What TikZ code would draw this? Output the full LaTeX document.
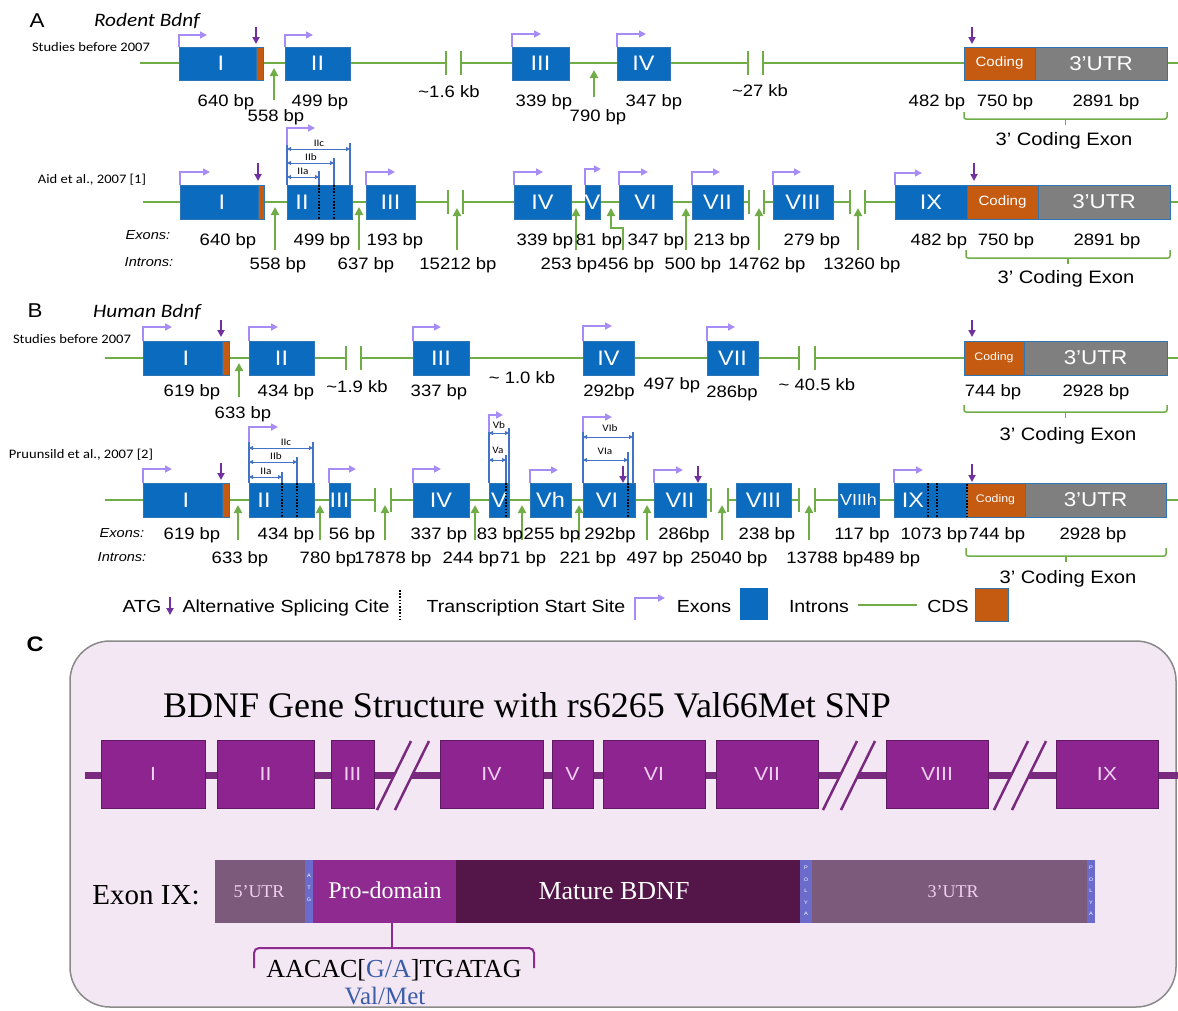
\documentclass[tikz,border=0pt]{standalone}
\usepackage{fontspec}
\setmainfont{Liberation Sans}[FakeStretch=1.12]
\newfontfamily\calfont{Carlito}[FakeStretch=1.12]
\newfontfamily\serfont{Liberation Serif}
\usetikzlibrary{arrows.meta}
\definecolor{exblue}{HTML}{0A6BBF}
\definecolor{exedge}{HTML}{2E75B6}
\definecolor{grn}{HTML}{70AD47}
\definecolor{cds}{HTML}{C55A11}
\definecolor{utr}{HTML}{7F7F7F}
\definecolor{tss}{HTML}{A88CF5}
\definecolor{atg}{HTML}{7030A0}
\definecolor{dim}{HTML}{4472C4}
\definecolor{bgC}{HTML}{F4E7F4}
\definecolor{frameC}{HTML}{8A8A8A}
\definecolor{exC}{HTML}{8D2490}
\definecolor{exCedge}{HTML}{5F1A63}
\definecolor{lineC}{HTML}{7A2A7E}
\definecolor{utrC}{HTML}{7C5A7B}
\definecolor{atgC}{HTML}{6B6BCB}
\definecolor{proC}{HTML}{8F2B90}
\definecolor{matC}{HTML}{541649}
\definecolor{snpC}{HTML}{3B5DA8}
\definecolor{clblC}{HTML}{EFD0EF}
\tikzset{
  bptxt/.style={font=\fontsize{16.5}{18}\selectfont, anchor=base, inner sep=0},
  ittxt/.style={font=\itshape\fontsize{13}{15}\selectfont, anchor=base, inner sep=0},
  caltxt/.style={font=\calfont\fontsize{13}{15}\selectfont, anchor=base, inner sep=0},
  dimtxt/.style={font=\calfont\fontsize{10}{11}\selectfont, inner sep=0},
  paneltxt/.style={font=\fontsize{20}{22}\selectfont, anchor=base, inner sep=0},
  titletxt/.style={font=\calfont\itshape\fontsize{19}{21}\selectfont, anchor=base, inner sep=0},
  cetxt/.style={font=\fontsize{18}{20}\selectfont, anchor=base, inner sep=0},
  legtxt/.style={font=\fontsize{17.5}{19}\selectfont, anchor=base, inner sep=0},
  exbox/.style={fill=exblue, draw=exedge, line width=0.8},
  cdsbox/.style={fill=cds, draw=exedge, line width=0.8},
  utrbox/.style={fill=utr, draw=exedge, line width=0.8},
  exlbl/.style={text=white, font=\fontsize{21}{21}\selectfont, inner sep=0},
  gline/.style={draw=grn, line width=2},
  garrow/.style={draw=grn, line width=2, -{Triangle[length=8,width=8]}},
  tssline/.style={draw=tss, line width=1.6, -{Triangle[length=7,width=7]}},
  atgarrow/.style={draw=atg, line width=2, -{Triangle[length=7,width=7]}},
  dimar/.style={draw=dim, line width=1, {Triangle[length=4,width=4]}-{Triangle[length=4,width=4]}},
  dimline/.style={draw=dim, line width=1.2},
  dotln/.style={draw=black, line width=1.4, dash pattern=on 1.6pt off 1.6pt},
  gbrace/.style={draw=grn, line width=1.5},
  cbox/.style={fill=exC, draw=exCedge, line width=1},
  clbl/.style={text=clblC, font=\fontsize{19}{19}\selectfont, inner sep=0},
  slashst/.style={draw=lineC, line width=2.5},
  bracest/.style={draw=proC, line width=2},
  ctxt/.style={font=\serfont, inner sep=0}
}
\newcounter{lb}
\newcommand\lbl[4][bptxt]{\stepcounter{lb}\node[#1] (lb\thelb) at (#2,#3) {#4};}
\newcommand\exon[7][exbox]{\filldraw[#1] (#3,#5) rectangle (#4,#6);
  \node[exlbl] (#2) at ({(#3+#4)/2},{(#5+#6)/2}) {#7};}
\newcommand\tssar[4]{\draw[tssline] (#1,#2) |- (#4,#3);}
\newcommand\garr[3]{\draw[garrow] (#1,#2) -- (#1,#3);}
\newcommand\atgar[3]{\draw[atgarrow] (#1,#2) -- (#1,#3);}
\newcommand\brk[3]{\draw[gline] (#1,{#3-12}) -- (#1,{#3+12}) (#2,{#3-12}) -- (#2,{#3+12});}
\newcommand\gbr[5]{\draw[gbrace, rounded corners=2] (#1,#3) -- (#1,#4) -- (#2,#4) -- (#2,#3);
  \draw[gbrace] ({(#1+#2)/2},#4) -- ({(#1+#2)/2},#5);}
\newcommand\cexon[4]{\filldraw[cbox] (#2,740) rectangle (#3,808);
  \node[clbl] (#1) at ({(#2+#3)/2},774) {#4};}
\newcommand\cslash[1]{\fill[bgC] (#1,810) -- ({#1+18},810) -- ({#1+52},741) -- ({#1+34},741) -- cycle;
  \draw[slashst] (#1,810) -- ({#1+34},741) ({#1+18},810) -- ({#1+52},741);}
\newcommand\codA{\fontsize{13.5}{14}\selectfont Coding}
\newcommand\utrA{\fontsize{20}{20}\selectfont 3’UTR}
\newcommand\codB{\fontsize{11}{12}\selectfont Coding}
\begin{document}
\begin{tikzpicture}[x=1pt,y=-1pt]
\useasboundingbox (0,0) rectangle (1178,1010);
\fill[white] (0,0) rectangle (1178,1010);

% ================= Panel A row 1 =================
\lbl[paneltxt]{37}{27}{A}
\lbl[titletxt]{147}{26}{Rodent Bdnf}
\lbl[caltxt]{91}{51}{Studies before 2007}
\draw[gline] (140,63) -- (446,63) (461,63) -- (748,63) (763,63) -- (1178,63);
\brk{446}{461}{63}
\brk{748}{763}{63}
\tssar{179}{47}{35}{207}
\tssar{285}{47}{35}{313}
\tssar{512}{47}{34}{541}
\tssar{617}{47}{34}{646}
\exon{aI}{179}{263}{47}{80}{I}
\filldraw[cdsbox] (256,47) rectangle (263,80);
\exon{aII}{285}{350}{47}{80}{II}
\exon{aIII}{512}{569}{47}{80}{III}
\exon{aIV}{617}{670}{47}{80}{IV}
\exon[cdsbox]{aCod}{964}{1035}{47}{80}{\codA}
\exon[utrbox]{aUTR}{1035}{1167}{47}{80}{\utrA}
\atgar{256}{27}{44}
\atgar{972}{27}{44}
\garr{274}{100}{68}
\garr{594}{97}{70}
\lbl{226}{106}{640 bp}
\lbl{320}{106}{499 bp}
\lbl{276}{121}{558 bp}
\lbl{449}{97}{\textasciitilde1.6 kb}
\lbl{544}{106}{339 bp}
\lbl{654}{106}{347 bp}
\lbl{598}{121}{790 bp}
\lbl{760}{96}{\textasciitilde27 kb}
\lbl{937}{106}{482 bp}
\lbl{1005}{106}{750 bp}
\lbl{1106}{106}{2891 bp}
\gbr{964}{1167}{112}{119}{125}
\lbl[cetxt]{1064}{145}{3’ Coding Exon}

% ================= Panel A row 2 =================
\lbl[caltxt]{92}{183}{Aid et al., 2007 [1]}
\draw[gline] (143,202) -- (448,202) (463,202) -- (749,202) (764,202) -- (850,202) (865,202) -- (1178,202);
\brk{448}{463}{202}
\brk{749}{764}{202}
\brk{850}{865}{202}
\tssar{180}{185}{172}{210}
\tssar{287}{185}{128}{315}
\tssar{366}{185}{172}{395}
\tssar{514}{185}{172}{543}
\tssar{585}{185}{169}{601}
\tssar{619}{185}{172}{648}
\tssar{692}{185}{172}{720}
\tssar{773}{185}{172}{801}
\tssar{895}{185}{173}{922}
\exon{a2I}{180}{264}{185}{219}{I}
\filldraw[cdsbox] (258,185) rectangle (264,219);
\filldraw[exbox] (287,185) rectangle (352,219);
\node[exlbl] (a2II) at (302,202) {II};
\draw[dotln] (319,185) -- (319,219) (334,185) -- (334,219);
\exon{a2III}{366}{415}{185}{219}{III}
\exon{a2IV}{514}{571}{185}{219}{IV}
\exon{a2V}{585}{600}{185}{219}{V}
\exon{a2VI}{619}{672}{185}{219}{VI}
\exon{a2VII}{692}{743}{185}{219}{VII}
\exon{a2VIII}{773}{833}{185}{219}{VIII}
\exon{a2IX}{895}{967}{185}{219}{IX}
\exon[cdsbox]{a2Cod}{967}{1038}{185}{219}{\codA}
\exon[utrbox]{a2UTR}{1038}{1170}{185}{219}{\utrA}
% II subdivisions
\draw[dimline] (287,145) -- (287,185) (350,143) -- (350,185) (334,158) -- (334,185) (319,171) -- (319,185);
\draw[dimar] (287,149) -- (350,149);
\draw[dimar] (287,163) -- (334,163);
\draw[dimar] (287,177) -- (319,177);
\node[dimtxt] (a2IIc) at (319,143) {IIc};
\node[dimtxt] (a2IIb) at (311,157) {IIb};
\node[dimtxt] (a2IIa) at (303,171) {IIa};
\atgar{258}{163}{181}
\atgar{974}{163}{181}
\garr{275}{250}{207}
\garr{359}{250}{207}
\garr{457}{250}{208}
\garr{576}{250}{208}
\draw[garrow] (623,250) -- (623,228) -- (611,228) -- (611,208);
\garr{686}{250}{208}
\garr{759}{250}{208}
\garr{858}{250}{208}
\lbl[ittxt]{148}{239}{Exons:}
\lbl[ittxt]{149}{266}{Introns:}
\lbl{228}{245}{640 bp}
\lbl{322}{245}{499 bp}
\lbl{395}{245}{193 bp}
\lbl{545}{245}{339 bp}
\lbl{599}{245}{81 bp}
\lbl{656}{245}{347 bp}
\lbl{722}{245}{213 bp}
\lbl{812}{245}{279 bp}
\lbl{939}{245}{482 bp}
\lbl{1006}{245}{750 bp}
\lbl{1107}{245}{2891 bp}
\lbl{278}{269}{558 bp}
\lbl{366}{269}{637 bp}
\lbl{458}{269}{15212 bp}
\lbl{569}{269}{253 bp}
\lbl{626}{269}{456 bp}
\lbl{693}{269}{500 bp}
\lbl{767}{269}{14762 bp}
\lbl{862}{269}{13260 bp}
\gbr{966}{1170}{250}{258}{264}
\lbl[cetxt]{1066}{283}{3’ Coding Exon}

% ================= Panel B row 1 =================
\lbl[paneltxt]{35}{317}{B}
\lbl[titletxt]{147}{317}{Human Bdnf}
\lbl[caltxt]{72}{343}{Studies before 2007}
\draw[gline] (105,358) -- (346,358) (361,358) -- (799,358) (815,358) -- (1178,358);
\brk{346}{361}{358}
\brk{799}{815}{358}
\tssar{143}{341}{327}{172}
\tssar{249}{341}{327}{278}
\tssar{413}{341}{327}{441}
\tssar{583}{341}{326}{612}
\tssar{707}{341}{327}{735}
\exon{bI}{143}{229}{341}{375}{I}
\filldraw[cdsbox] (222,341) rectangle (229,375);
\exon{bII}{249}{314}{341}{375}{II}
\exon{bIII}{413}{469}{341}{375}{III}
\exon{bIV}{583}{634}{341}{375}{IV}
\exon{bVII}{707}{758}{341}{375}{VII}
\exon[cdsbox]{bCod}{964}{1024}{341}{375}{\codB}
\exon[utrbox]{bUTR}{1024}{1167}{341}{375}{\utrA}
\atgar{221}{320}{337}
\atgar{972}{320}{337}
\garr{239}{397}{363}
\lbl{192}{396}{619 bp}
\lbl{286}{396}{434 bp}
\lbl{357}{392}{\textasciitilde1.9 kb}
\lbl{439}{396}{337 bp}
\lbl{243}{418}{633 bp}
\lbl{522}{383}{\textasciitilde\ 1.0 kb}
\lbl{609}{396}{292bp}
\lbl{672}{389}{497 bp}
\lbl{732}{397}{286bp}
\lbl{817}{390}{\textasciitilde\ 40.5 kb}
\lbl{993}{396}{744 bp}
\lbl{1096}{396}{2928 bp}
\gbr{964}{1167}{405}{412}{418}
\lbl[cetxt]{1068}{440}{3’ Coding Exon}

% ================= Panel B row 2 =================
\lbl[caltxt]{81}{458}{Pruunsild et al., 2007 [2]}
\draw[gline] (105,500) -- (375,500) (391,500) -- (711,500) (728,500) -- (799,500) (815,500) -- (1178,500);
\brk{375}{391}{500}
\brk{711}{728}{500}
\brk{799}{815}{500}
\tssar{143}{483}{469}{172}
\tssar{249}{483}{427}{278}
\tssar{329}{483}{469}{356}
\tssar{413}{483}{469}{441}
\tssar{489}{483}{415}{503}
\tssar{530}{483}{470}{558}
\tssar{583}{483}{417}{612}
\tssar{654}{483}{470}{683}
\tssar{894}{483}{470}{923}
\exon{b2I}{143}{229}{483}{517}{I}
\filldraw[cdsbox] (222,483) rectangle (229,517);
\filldraw[exbox] (249,483) rectangle (314,517);
\node[exlbl] (b2II) at (264,500) {II};
\draw[dotln] (282,483) -- (282,517) (297,483) -- (297,517);
\exon{b2III}{329}{350}{483}{517}{III}
\exon{b2IV}{413}{469}{483}{517}{IV}
\exon{b2V}{489}{509}{483}{517}{V}
\draw[dotln] (506,483) -- (506,517);
\exon{b2Vh}{530}{571}{483}{517}{Vh}
\filldraw[exbox] (583,483) rectangle (635,517);
\node[exlbl] (b2VI) at (607,500) {VI};
\draw[dotln] (628,483) -- (628,517);
\exon{b2VII}{654}{706}{483}{517}{VII}
\exon{b2VIII}{736}{791}{483}{517}{VIII}
\exon{b2VIIIh}{838}{879}{483}{517}{\fontsize{16}{16}\selectfont VIIIh}
\filldraw[exbox] (894,483) rectangle (966,517);
\node[exlbl] (b2IX) at (913,500) {IX};
\draw[dotln] (928,483) -- (928,517) (937,483) -- (937,517);
\exon[cdsbox]{b2Cod}{966}{1025}{483}{517}{\codB}
\exon[utrbox]{b2UTR}{1025}{1166}{483}{517}{\utrA}
\draw[dotln] (967,484) -- (967,517);
% II subdivisions
\draw[dimline] (249,442) -- (249,483) (313,442) -- (313,483) (297,457) -- (297,483) (282,472) -- (282,483);
\draw[dimar] (249,448) -- (313,448);
\draw[dimar] (249,462) -- (297,462);
\draw[dimar] (249,477) -- (282,477);
\node[dimtxt] (b2IIc) at (286,442) {IIc};
\node[dimtxt] (b2IIb) at (276,456) {IIb};
\node[dimtxt] (b2IIa) at (266,471) {IIa};
% V subdivisions
\draw[dimline] (489,432) -- (489,483) (509,428) -- (509,483) (506,455) -- (506,483);
\draw[dimar] (489,433) -- (509,433);
\draw[dimar] (489,460) -- (506,460);
\node[dimtxt] (b2Vb) at (499,425) {Vb};
\node[dimtxt] (b2Va) at (498,450) {Va};
% VI subdivisions
\draw[dimline] (583,432) -- (583,483) (633,432) -- (633,483) (628,452) -- (628,483);
\draw[dimar] (583,437) -- (633,437);
\draw[dimar] (583,460) -- (628,460);
\node[dimtxt] (b2VIb) at (610,428) {VIb};
\node[dimtxt] (b2VIa) at (605,451) {VIa};
\atgar{221}{463}{480}
\atgar{623}{466}{483}
\atgar{698}{466}{483}
\atgar{972}{464}{482}
\garr{238}{540}{505}
\garr{320}{540}{505}
\garr{385}{540}{505}
\garr{475}{540}{505}
\garr{522}{540}{505}
\garr{579}{540}{505}
\garr{647}{540}{505}
\garr{722}{540}{505}
\garr{809}{540}{505}
\lbl[ittxt]{122}{537}{Exons:}
\lbl[ittxt]{122}{561}{Introns:}
\lbl{192}{539}{619 bp}
\lbl{286}{539}{434 bp}
\lbl{352}{539}{56 bp}
\lbl{439}{539}{337 bp}
\lbl{500}{539}{83 bp}
\lbl{552}{539}{255 bp}
\lbl{610}{539}{292bp}
\lbl{684}{539}{286bp}
\lbl{767}{539}{238 bp}
\lbl{862}{539}{117 bp}
\lbl{934}{539}{1073 bp}
\lbl{997}{539}{744 bp}
\lbl{1093}{539}{2928 bp}
\lbl{240}{563}{633 bp}
\lbl{328}{563}{780 bp}
\lbl{393}{563}{17878 bp}
\lbl{471}{563}{244 bp}
\lbl{523}{563}{71 bp}
\lbl{588}{563}{221 bp}
\lbl{655}{563}{497 bp}
\lbl{729}{563}{25040 bp}
\lbl{825}{563}{13788 bp}
\lbl{892}{563}{489 bp}
\gbr{966}{1166}{548}{556}{562}
\lbl[cetxt]{1068}{583}{3’ Coding Exon}

% ================= Legend =================
\lbl[legtxt]{142}{612}{ATG}
\atgar{170}{597}{615}
\lbl[legtxt]{286}{612}{Alternative Splicing Cite}
\draw[dotln, line width=1.2] (400,590) -- (400,620);
\lbl[legtxt]{526}{612}{Transcription Start Site}
\draw[tssline] (635,620) |- (665,598);
\lbl[legtxt]{704}{612}{Exons}
\fill[exblue] (740,588) rectangle (768,620);
\lbl[legtxt]{819}{612}{Introns}
\draw[gline] (858,605) -- (917,605);
\lbl[legtxt]{948}{612}{CDS}
\filldraw[fill=cds, draw=exedge, line width=0.8] (975,588) rectangle (1008,621);

% ================= Panel C =================
\draw[draw=frameC, line width=1.5, fill=bgC, rounded corners=40] (70,641) rectangle (1176,1007);
\node[font=\bfseries\fontsize{21}{22}\selectfont, inner sep=0] (Clab) at (35,644) {C};
\node[ctxt, font=\serfont\fontsize{36}{38}\selectfont, anchor=base] (Ctitle) at (527,717) {BDNF Gene Structure with rs6265 Val66Met SNP};
\draw[line width=7, draw=lineC] (85,775) -- (1178,775);
\cexon{cI}{101}{205}{I}
\cexon{cII}{217}{314}{II}
\cexon{cIII}{331}{374}{III}
\cslash{377}
\cexon{cIV}{440}{543}{IV}
\cexon{cV}{552}{593}{V}
\cexon{cVI}{603}{705}{VI}
\cexon{cVII}{716}{818}{VII}
\cslash{823}
\cexon{cVIII}{886}{988}{VIII}
\cslash{994}
\cexon{cIX}{1056}{1158}{IX}
% Exon IX bar
\fill[utrC] (215,860) rectangle (305,923);
\fill[atgC] (305,860) rectangle (313,923);
\fill[proC] (313,860) rectangle (456,923);
\fill[matC] (456,860) rectangle (800,923);
\fill[atgC] (800,860) rectangle (812,923);
\fill[utrC] (812,860) rectangle (1087,923);
\fill[atgC] (1087,860) rectangle (1095,923);
\node[font=\fontsize{5}{12}\selectfont, text=white, align=center, inner sep=0] (cATG) at (309,888) {A\\T\\G};
\node[font=\fontsize{5}{11.5}\selectfont, text=white, align=center, inner sep=0] (cPA1) at (806,891) {P\\O\\L\\Y\\A};
\node[font=\fontsize{5}{11.5}\selectfont, text=white, align=center, inner sep=0] (cPA2) at (1091,891) {P\\O\\L\\Y\\A};
\node[ctxt, font=\serfont\fontsize{18}{20}\selectfont, text=clblC] (c5u) at (259,892) {5’UTR};
\node[ctxt, font=\serfont\fontsize{24}{26}\selectfont, text=white] (cPro) at (385,890) {Pro-domain};
\node[ctxt, font=\serfont\fontsize{26}{28}\selectfont, text=white] (cMat) at (614,891) {Mature BDNF};
\node[ctxt, font=\serfont\fontsize{18}{20}\selectfont, text=clblC] (c3u) at (953,892) {3’UTR};
\node[ctxt, font=\serfont\fontsize{29}{31}\selectfont, anchor=base] (cEx) at (146,904) {Exon IX:};
\draw[bracest] (392,923) -- (392,948);
\draw[bracest, rounded corners=5] (254,968) -- (254,948) -- (534,948) -- (534,968);
\node[ctxt, font=\serfont\fontsize{26}{28}\selectfont, anchor=base] (cSeq) at (394,977) {AACAC[\textcolor{snpC}{G/A}]TGATAG};
\node[ctxt, font=\serfont\fontsize{25}{27}\selectfont, anchor=base, text=snpC] (cVM) at (385,1004) {Val/Met};
\end{tikzpicture}
\end{document}
